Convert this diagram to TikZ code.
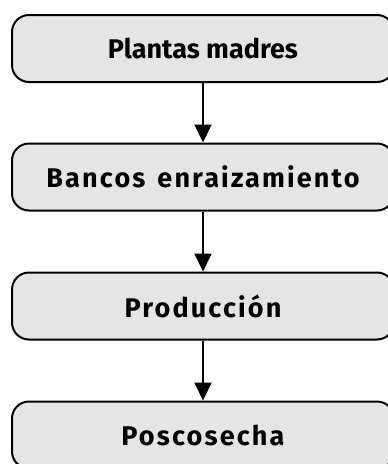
\documentclass[tikz,border=0pt]{standalone}
\usepackage{fontspec}
\usetikzlibrary{arrows.meta}
\newfontfamily\boxfont{Fira Sans}
\newfontfamily\boxfontwide[LetterSpace=8, WordSpace=1.4]{Fira Sans}
\begin{document}
\begin{tikzpicture}[
    x=1pt, y=-1pt,
    box/.style={rectangle, rounded corners=17pt, draw, line width=2pt, fill=gray!20,
        minimum width=382pt, minimum height=67pt, align=center, font=\boxfont\fontsize{27}{30}\selectfont\bfseries},
    widebox/.style={box, font=\boxfontwide\fontsize{27}{30}\selectfont\bfseries},
    arrow/.style={-{Triangle[length=18pt, width=17pt]}, line width=2pt}
]
\useasboundingbox (0,0) rectangle (388,464);
\clip (0,0) rectangle (388,464);

% Etapas
\node[box] (madres) at (203,48.5) {Plantas madres};
\node[widebox] (bancos) at (203,177) {Bancos enraizamiento};
\node[widebox] (produccion) at (203,306) {Producción};
\node[widebox] (poscosecha) at (203,435) {Poscosecha};

% Flechas
\draw[arrow] (madres) -- (bancos);
\draw[arrow] (bancos) -- (produccion);
\draw[arrow] (produccion) -- (poscosecha);

\end{tikzpicture}
\end{document}
